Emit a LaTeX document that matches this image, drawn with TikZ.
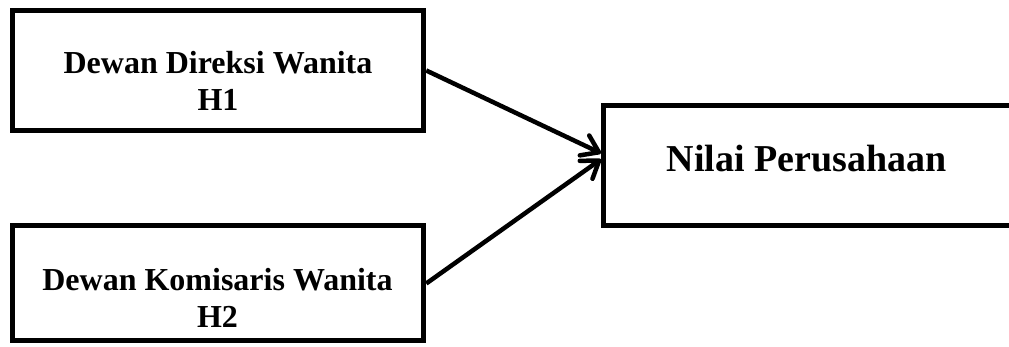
\documentclass[tikz,border=0pt]{standalone}
\usepackage{fontspec}
\setmainfont{Liberation Serif}
\usepackage{tikz}
\usetikzlibrary{positioning}
\usetikzlibrary{arrows.meta}
\tikzset{>={Straight Barb[length=16pt,width=22pt,line width=4.5pt,round]}}

\begin{document}
\begin{tikzpicture}[x=1pt, y=1pt, box/.style={rectangle, draw=black, line width=5pt, minimum width=411.5pt, inner sep=0pt}, boxtext/.style={align=center, inner sep=0pt, font=\fontsize{32}{37}\selectfont\bfseries}, bigtext/.style={inner sep=0pt, font=\fontsize{38}{44}\selectfont\bfseries}]
    \useasboundingbox (0,0) rectangle (1009,347);
    \clip (0,0) rectangle (1009,347);
    
    %Nodes
    \node[box, minimum height=120pt](direksi) at (218,276.5){};
    \node[boxtext](direksi_text) at (218,266){Dewan Direksi Wanita\\H1};
    \node[box, minimum height=115pt](komisaris) at (218,63.5){};
    \node[boxtext](komisaris_text) at (217.5,49){Dewan Komisaris Wanita\\H2};
    \node[box, minimum height=119.5pt](nilai) at (809.25,181.25){};
    \node[bigtext](nilai_text) at (806.5,188){Nilai Perusahaan};
    
    %Lines
    \draw[->, line width=4.5pt] (direksi.east) -- ([yshift=12.5pt]nilai.west);
    \draw[->, line width=4.5pt] (komisaris.east) -- ([yshift=6.5pt]nilai.west);
    
\end{tikzpicture}
\end{document}
